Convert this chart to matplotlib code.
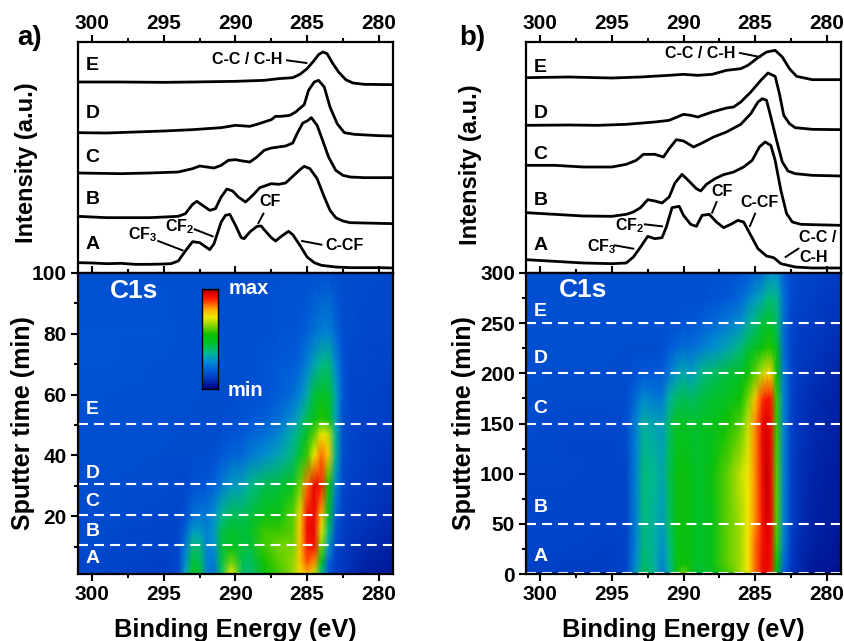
import numpy as np
import matplotlib
matplotlib.use('Agg')
import matplotlib.pyplot as plt
from matplotlib.colors import LinearSegmentedColormap

plt.rcParams['font.family'] = ['Liberation Sans', 'DejaVu Sans']
plt.rcParams['font.weight'] = 'bold'
plt.rcParams['mathtext.fontset'] = 'custom'
plt.rcParams['mathtext.bf'] = 'Liberation Sans:bold'
plt.rcParams['mathtext.rm'] = 'Liberation Sans:bold'

W, H = 845, 641

# spectra panel a
a_A_e = [301,300,299,298,297,296,295,294.5,294,293.5,293,292.5,292,291.8,291.5,291,290.7,290.4,290,289.6,289.4,289,288.5,288.2,288,287.5,287.2,286.8,286.3,286,285.5,285,284.5,284,283,282,281,280,279]
a_A_v = [31,30,28,29,26,26,27,28,36,66,94,91,76,70,88,153,173,176,143,106,103,123,140,141,130,106,96,110,125,115,83,48,31,23,18,16,16,16,15]
a_B_e = [301,299,298,296,295,294,293.5,293,292.7,292.3,291.8,291.4,291,290.6,290.2,289.8,289.3,288.8,288.3,287.5,287,286.5,286,285.5,285.2,284.8,284.3,283.8,283.4,283,282.5,282,281,279]
a_B_v = [170,166,166,166,168,170,178,206,215,203,188,193,228,252,246,228,213,233,256,268,266,270,290,310,320,313,283,228,188,166,156,151,150,148]
a_C_e = [301,298,296,294,293,292.5,292,291.5,291,290.5,290,289.5,289,288.5,288,287.5,287,286.5,286,285.7,285.3,285,284.7,284.3,284,283.5,283,282.5,282,281,279]
a_C_v = [300,298,300,303,313,321,318,315,323,338,340,336,333,348,368,375,378,381,390,418,450,456,466,443,408,348,308,293,288,286,286]
a_D_e = [301,299,297,295,293,291,290,289,288.5,288,287.5,287.2,286.8,286.2,285.8,285.2,284.9,284.5,284.2,283.8,283.4,282.9,282.4,281.7,280,279]
a_D_v = [421,420,423,426,430,436,443,440,446,453,460,470,470,473,483,505,548,573,578,558,498,448,421,416,412,411]
a_E_e = [301,298,295,293,290,288,287,286,285.5,285,284.5,284.2,283.9,283.6,283.2,282.8,282.3,281.8,281,279]
a_E_v = [573,573,572,573,575,578,583,586,596,613,638,655,663,658,628,603,580,570,566,565]

# spectra panel b
b_A_e = [301,299,297,295,294,293.5,293,292.5,292,291.5,291.2,290.8,290.3,290,289.5,289.1,288.7,288.2,287.7,287.2,286.7,286.2,285.8,285.3,284.8,284.2,283.7,283.2,282.7,282.2,281,279]
b_A_v = [40,35,30,28,30,48,78,110,103,106,138,196,200,173,146,140,173,176,153,136,146,158,153,113,73,51,46,28,23,18,15,15]
b_B_e = [301,299,297,295,294,293.5,293,292.5,292,291.5,291,290.6,290.1,289.6,289.1,288.8,288.4,287.8,287.2,286.5,285.8,285.2,284.7,284.3,283.9,283.6,283.2,282.8,282.4,281.8,281,279]
b_B_v = [181,176,171,170,176,183,196,220,216,210,228,270,296,275,253,246,266,283,295,303,318,338,378,393,383,338,248,178,153,146,145,143]
b_C_e = [301,299,297,295,294,293.3,292.8,292,291.4,291,290.5,290,289.6,289.3,288.7,287.9,287,286,285.3,284.8,284.5,284.2,283.9,283.5,283.1,282.7,282.2,281,279]
b_C_v = [323,323,318,318,326,338,356,356,348,373,400,396,386,378,390,408,423,446,478,513,523,518,468,398,333,306,298,293,291]
b_D_e = [301,298,296,294,292,291,290,289.5,289,288,287,286.5,286,285.3,284.6,284.1,283.6,283.3,283,282.6,282.2,281,279]
b_D_v = [443,444,443,446,453,458,476,473,468,483,495,498,513,543,578,600,590,538,473,448,436,431,430]
b_E_e = [301,298,295,293,291,290,289,288,287,286,285.5,284.8,284.2,283.6,283.1,282.6,282.1,281,279]
b_E_v = [586,588,585,588,593,596,593,596,608,613,623,646,663,668,648,613,590,580,580]

# depth profile a
map_a_e = [301,298,295,294,293.5,293,292.5,292,291.5,291,290.3,289.5,289,288,287,286,285.5,285,284.5,284,283.5,283,282.5,282,281,279]
map_a_t = [1,5,10,15,20,30,40,47,52,60,70,80,100]
map_a = [
    [14,13,12,14,32,48,45,25,22,40,72,40,38,52,58,64,73,78,68,36,18,12,10,8,6,4],
    [14,13,12,14,28,44,42,25,24,42,62,42,40,55,60,64,76,86,82,48,20,12,10,9,7,5],
    [15,14,13,14,24,38,38,25,28,44,50,44,44,58,62,62,76,90,92,62,30,14,11,9,8,6],
    [15,14,13,14,20,30,30,25,30,42,46,44,46,58,58,60,76,93,94,70,38,16,12,10,9,7],
    [15,15,14,14,16,22,24,24,28,36,42,42,44,50,52,60,74,92,94,78,45,20,12,11,10,8],
    [16,15,15,14,14,16,17,18,20,24,30,32,36,42,44,50,62,84,95,90,55,26,14,12,11,9],
    [16,16,15,15,15,15,15,15,16,18,20,21,24,28,32,38,46,58,72,84,76,34,16,13,12,10],
    [16,16,16,15,15,15,15,15,15,16,17,18,20,22,26,34,40,48,60,72,68,34,16,14,12,11],
    [16,16,16,15,15,15,15,15,15,15,16,17,18,19,22,28,34,42,50,56,52,32,16,14,13,12],
    [17,16,16,16,16,16,15,15,15,15,15,16,16,17,19,22,26,33,44,48,46,32,18,14,13,12],
    [17,17,16,16,16,16,16,16,16,16,16,16,16,17,18,19,21,25,32,37,38,27,17,14,14,13],
    [17,17,17,16,16,16,16,16,16,16,16,16,16,16,17,17,18,20,23,25,26,21,16,15,14,14],
    [16,16,16,16,16,16,16,16,16,16,16,16,16,16,16,16,16,16,16,16,16,15,15,15,15,14],
]

# depth profile b
map_b_e = [301,298,295,294,293.3,292.8,292,291.5,291,290.5,290,289.5,289,288.5,288,287,286,285.5,285,284.5,284.2,283.9,283.5,283,282.5,282,281,279]
map_b_t = [0,3,10,30,50,100,150,175,200,225,250,275,300]
map_b = [
    [13,12,12,13,30,44,36,22,32,55,68,50,42,44,46,56,64,70,80,90,92,86,44,16,10,8,5,3],
    [13,12,12,13,30,42,35,24,34,52,60,50,44,46,48,58,66,72,84,93,95,90,50,18,10,8,5,3],
    [13,12,12,13,28,40,34,26,36,50,54,50,46,48,50,60,66,72,84,93,95,92,55,22,11,8,5,4],
    [13,13,12,13,26,38,34,28,38,50,52,50,46,48,50,60,66,72,84,92,95,93,58,25,12,8,6,4],
    [14,13,13,13,26,38,34,30,40,50,52,50,46,48,50,60,66,72,82,92,96,94,60,26,13,9,6,5],
    [14,14,13,14,26,38,36,32,42,50,52,50,46,48,52,60,68,72,82,93,97,94,60,26,13,9,7,5],
    [15,14,14,15,26,34,32,30,40,48,48,46,46,48,48,54,60,68,82,94,96,93,58,26,13,10,8,6],
    [15,15,15,15,22,27,24,24,34,40,42,40,42,44,46,48,54,62,76,88,92,90,58,26,14,10,8,6],
    [16,15,15,15,17,18,18,18,24,30,33,30,34,38,40,44,48,54,60,68,74,74,54,24,14,11,9,7],
    [16,16,16,15,15,15,15,16,18,21,22,22,24,26,28,32,38,44,48,52,56,56,48,22,14,11,10,8],
    [16,16,16,16,16,16,16,16,16,16,17,17,18,20,21,24,28,34,38,44,46,46,40,22,14,12,11,9],
    [16,16,16,16,16,16,16,16,16,16,16,16,16,16,17,18,21,25,30,33,37,38,36,22,15,13,12,10],
    [16,16,16,16,16,16,16,16,16,16,16,16,16,16,16,16,17,18,20,22,26,28,28,20,15,13,13,11],
]

sample_names = ['A', 'B', 'C', 'D', 'E']
a_cuts = [1, 10.5, 20.5, 30.5, 50.5]
b_cuts = [0.5, 50, 150, 200, 250]

cmap = LinearSegmentedColormap.from_list('xps', [
    (0.0, '#00007a'), (0.1, '#0038c0'), (0.18, '#0058d8'), (0.28, '#0090d0'),
    (0.36, '#00b890'), (0.45, '#00c030'), (0.55, '#10c000'), (0.64, '#90d800'),
    (0.72, '#f0e800'), (0.8, '#ffa800'), (0.9, '#ff2000'), (0.96, '#e00000'), (1.0, '#800000')])


def px_axes(x0, y0, x1, y1):
    return fig.add_axes([x0 / W, 1 - y1 / H, (x1 - x0) / W, (y1 - y0) / H])


def spectra_panel(ax, curves):
    for e, v in curves:
        ax.plot(e, v, color='black', lw=2.0, solid_joinstyle='round')
    ax.set_xlim(301, 279)
    ax.set_ylim(0, 693)
    ax.set_yticks([])
    ax.set_xticks([300, 295, 290, 285, 280])
    ax.set_xticks([297.5, 292.5, 287.5, 282.5], minor=True)
    ax.tick_params(axis='x', which='major', top=True, labeltop=True, bottom=True, labelbottom=False,
                   direction='out', length=5, width=1.5, labelsize=15, pad=1.5)
    ax.tick_params(axis='x', which='minor', top=True, bottom=True, direction='out', length=3, width=1.5)
    for s in ax.spines.values():
        s.set_linewidth(1.6)


def map_panel(ax, e, t, z, ymax, ymin, yticks, yminor, cuts):
    ax.pcolormesh(e, t, np.array(z), cmap=cmap, vmin=0, vmax=100, shading='gouraud', rasterized=True)
    ax.set_xlim(301, 279)
    ax.set_ylim(ymin, ymax)
    ax.set_xticks([300, 295, 290, 285, 280])
    ax.set_xticks([297.5, 292.5, 287.5, 282.5], minor=True)
    ax.set_yticks(yticks)
    ax.set_yticks(yminor, minor=True)
    ax.tick_params(axis='both', which='major', direction='out', length=5, width=1.5, labelsize=15, pad=3)
    ax.tick_params(axis='both', which='minor', direction='out', length=3, width=1.5)
    ax.tick_params(axis='x', top=True, which='both')
    for s in ax.spines.values():
        s.set_linewidth(1.6)
    for c in cuts:
        ax.axhline(c, color='white', lw=1.5, dashes=(4.8, 2.9))


fig = plt.figure(figsize=(W / 100, H / 100), dpi=100)

ax_a = px_axes(78, 42, 393, 273)
ax_b = px_axes(526, 42, 841, 273)
map_ax_a = px_axes(78, 273, 393, 574)
map_ax_b = px_axes(526, 273, 841, 574)

spectra_panel(ax_a, [(a_A_e, a_A_v), (a_B_e, a_B_v), (a_C_e, a_C_v), (a_D_e, a_D_v), (a_E_e, a_E_v)])
spectra_panel(ax_b, [(b_A_e, b_A_v), (b_B_e, b_B_v), (b_C_e, b_C_v), (b_D_e, b_D_v), (b_E_e, b_E_v)])

map_panel(map_ax_a, map_a_e, map_a_t, map_a, 100, 1, [20, 40, 60, 80, 100],
          [10, 30, 50, 70, 90], a_cuts)
map_panel(map_ax_b, map_b_e, map_b_t, map_b, 300, 0, [0, 50, 100, 150, 200, 250, 300],
          [25, 75, 125, 175, 225, 275], b_cuts)

# curve letters
for name, y in zip(sample_names, [85, 221, 348, 480, 623]):
    ax_a.text(300, y, name, fontsize=14, ha='center', va='center')
for name, y in zip(sample_names, [81, 218, 355, 478, 618]):
    ax_b.text(300, y, name, fontsize=14, ha='center', va='center')
for name, y in zip(sample_names, [6, 15, 25, 34, 55]):
    map_ax_a.text(300, y, name, fontsize=14, color='white', ha='center', va='center')
for name, y in zip(sample_names, [17, 66, 165, 215, 262]):
    map_ax_b.text(300, y, name, fontsize=14, color='white', ha='center', va='center')

# peak labels with leader lines
a_labels = [
    ('C-C / C-H', 289.2, 641, (286.4, 285.05), (638, 630)),
    ('C-CF', 282.4, 83, (285.35, 284.0), (96, 85)),
    ('CF', 287.6, 213, (288.05, 288.4), (178, 150)),
    ('CF$_{\\mathbf{2}}$', 293.9, 138, (292.85, 291.6), (131, 110)),
    ('CF$_{\\mathbf{3}}$', 296.5, 115, (295.4, 293.7), (96, 68)),
]
b_labels = [
    ('C-C / C-H', 288.86, 660, (286.06, 284.66), (660, 648)),
    ('CF', 287.34, 243, (287.69, 288.0), (213, 181)),
    ('C-CF', 284.66, 211, (285.0, 285.36), (178, 141)),
    ('CF$_{\\mathbf{2}}$', 293.75, 143, (292.7, 291.5), (146, 140)),
    ('CF$_{\\mathbf{3}}$', 295.7, 78, (294.8, 293.5), (83, 73)),
    ('C-C /', 280.6, 105, (282.87, 281.98), (48, 73)),
]
for ax, labels in [(ax_a, a_labels), (ax_b, b_labels)]:
    for txt, x, y, lx, ly in labels:
        ax.text(x, y, txt, fontsize=11.5, ha='center', va='center')
        ax.plot(lx, ly, color='black', lw=1.4)
ax_b.text(280.9, 45, 'C-H', fontsize=11.5, ha='center', va='center')

# map annotations
map_ax_a.text(297.1, 94, 'C1s', color='white', fontsize=19, ha='center', va='center')
map_ax_b.text(297, 283, 'C1s', color='white', fontsize=19, ha='center', va='center')
map_ax_a.text(289.1, 95, 'max', color='white', fontsize=14.5, ha='center', va='center')
map_ax_a.text(289.3, 61.3, 'min', color='white', fontsize=14.5, ha='center', va='center')

cbar = px_axes(202, 289, 218, 389)
cbar.imshow(np.linspace(1, 0, 256)[:, None], cmap=cmap, aspect='auto')
cbar.set_xticks([])
cbar.set_yticks([])
for s in cbar.spines.values():
    s.set_linewidth(1.0)

# labels placed by hand
fig.text(30 / W, 1 - 38 / H, 'a)', fontsize=20, ha='center', va='center')
fig.text(472 / W, 1 - 38 / H, 'b)', fontsize=20, ha='center', va='center')
fig.text(27 / W, 1 - 163 / H, 'Intensity (a.u.)', fontsize=17, rotation=90, ha='center', va='center')
fig.text(471 / W, 1 - 165 / H, 'Intensity (a.u.)', fontsize=17, rotation=90, ha='center', va='center')
fig.text(23 / W, 1 - 423 / H, 'Sputter time (min)', fontsize=18, rotation=90, ha='center', va='center')
fig.text(464 / W, 1 - 423 / H, 'Sputter time (min)', fontsize=18, rotation=90, ha='center', va='center')
fig.text(235 / W, 1 - 630 / H, 'Binding Energy (eV)', fontsize=18.3, ha='center', va='center')
fig.text(683 / W, 1 - 630 / H, 'Binding Energy (eV)', fontsize=18.3, ha='center', va='center')

fig.savefig('out.png', dpi=100)
